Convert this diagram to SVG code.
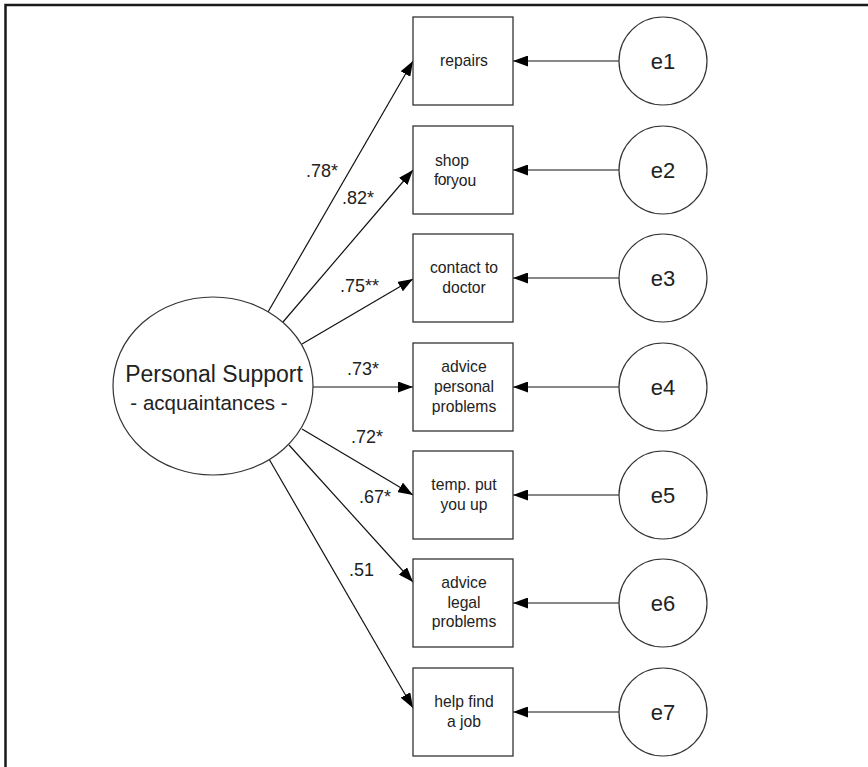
<svg xmlns="http://www.w3.org/2000/svg" width="868" height="767" viewBox="0 0 868 767">
<style>
  .box { fill: #fff; stroke: #333; stroke-width: 1.3; }
  .circ { fill: #fff; stroke: #333; stroke-width: 1.2; }
  .edge { stroke: #111; stroke-width: 1.2; fill: none; marker-end: url(#arr); }
  .bt { font-family: "Liberation Sans", Arial, sans-serif; font-size: 15.7px; fill: #222; text-anchor: middle; }
  .bts { font-family: "Liberation Sans", Arial, sans-serif; font-size: 15.7px; fill: #222; text-anchor: start; }
  .lab { font-family: "Liberation Sans", Arial, sans-serif; font-size: 18px; fill: #222; }
  .et { font-family: "Liberation Sans", Arial, sans-serif; font-size: 22px; fill: #222; text-anchor: middle; }
  .big { font-family: "Liberation Sans", Arial, sans-serif; fill: #222; text-anchor: middle; }
</style>
<defs>
  <marker id="arr" markerWidth="15" markerHeight="11" refX="15" refY="5.5" orient="auto" markerUnits="userSpaceOnUse">
    <path d="M0,0 L15,5.5 L0,11 Z" fill="#000"/>
  </marker>
</defs>
<rect width="868" height="767" fill="#fff"/>
<path d="M5.5,767 V5 H868" fill="none" stroke="#1a1a1a" stroke-width="2.5"/>

<g id="connectors">
  <line class="edge" x1="268" y1="312" x2="413" y2="61"/>
  <line class="edge" x1="283" y1="322" x2="413" y2="170"/>
  <line class="edge" x1="302" y1="344" x2="413" y2="279"/>
  <line class="edge" x1="313" y1="387" x2="413" y2="387"/>
  <line class="edge" x1="302" y1="429" x2="413" y2="495"/>
  <line class="edge" x1="289" y1="445" x2="413" y2="582"/>
  <line class="edge" x1="269" y1="459" x2="413" y2="708"/>
  <line class="edge" x1="619" y1="61" x2="513" y2="61"/>
  <line class="edge" x1="619" y1="170" x2="513" y2="170"/>
  <line class="edge" x1="619" y1="278" x2="513" y2="278"/>
  <line class="edge" x1="619" y1="387" x2="513" y2="387"/>
  <line class="edge" x1="619" y1="495" x2="513" y2="495"/>
  <line class="edge" x1="619" y1="603" x2="513" y2="603"/>
  <line class="edge" x1="619" y1="712" x2="513" y2="712"/>
  <text class="lab" x="306" y="177">.78*</text>
  <text class="lab" x="342" y="204">.82*</text>
  <text class="lab" x="340" y="292">.75**</text>
  <text class="lab" x="347" y="375">.73*</text>
  <text class="lab" x="351" y="443">.72*</text>
  <text class="lab" x="359" y="503">.67*</text>
  <text class="lab" x="349" y="576">.51</text>
</g>

<g id="latent">
  <ellipse class="circ" cx="213" cy="386" rx="100" ry="89"/>
  <text class="big" x="214" y="382" font-size="23">Personal Support</text>
  <text class="big" x="209" y="410" font-size="20.5">- acquaintances -</text>
</g>

<g id="repairs">
  <rect class="box" x="413" y="17" width="100" height="88"/>
  <text class="bt" x="464" y="66">repairs</text>
</g>
<g id="shop">
  <rect class="box" x="413" y="126" width="100" height="88"/>
  <text class="bts" x="435" y="166">shop</text>
  <text class="bts" x="434" y="185" font-size="14" letter-spacing="-0.5">for</text>
  <text class="bts" x="451" y="186">you</text>
</g>
<g id="doctor">
  <rect class="box" x="413" y="234" width="100" height="88"/>
  <text class="bt" x="464" y="273">contact to</text>
  <text class="bt" x="464" y="293">doctor</text>
</g>
<g id="personal">
  <rect class="box" x="413" y="343" width="100" height="88"/>
  <text class="bt" x="464" y="372">advice</text>
  <text class="bt" x="464" y="392">personal</text>
  <text class="bt" x="464" y="412">problems</text>
</g>
<g id="putup">
  <rect class="box" x="413" y="451" width="100" height="88"/>
  <text class="bt" x="464" y="490">temp. put</text>
  <text class="bt" x="464" y="510">you up</text>
</g>
<g id="legal">
  <rect class="box" x="413" y="559" width="100" height="88"/>
  <text class="bt" x="464" y="588">advice</text>
  <text class="bt" x="464" y="608">legal</text>
  <text class="bt" x="464" y="627">problems</text>
</g>
<g id="job">
  <rect class="box" x="413" y="668" width="100" height="88"/>
  <text class="bt" x="464" y="707">help find</text>
  <text class="bt" x="464" y="727">a job</text>
</g>

<g id="e1"><circle class="circ" cx="663" cy="61" r="44"/><text class="et" x="663" y="69">e1</text></g>
<g id="e2"><circle class="circ" cx="663" cy="170" r="44"/><text class="et" x="663" y="178">e2</text></g>
<g id="e3"><circle class="circ" cx="663" cy="278" r="44"/><text class="et" x="663" y="286">e3</text></g>
<g id="e4"><circle class="circ" cx="663" cy="387" r="44"/><text class="et" x="663" y="395">e4</text></g>
<g id="e5"><circle class="circ" cx="663" cy="495" r="44"/><text class="et" x="663" y="503">e5</text></g>
<g id="e6"><circle class="circ" cx="663" cy="603" r="44"/><text class="et" x="663" y="611">e6</text></g>
<g id="e7"><circle class="circ" cx="663" cy="712" r="44"/><text class="et" x="663" y="720">e7</text></g>
</svg>
